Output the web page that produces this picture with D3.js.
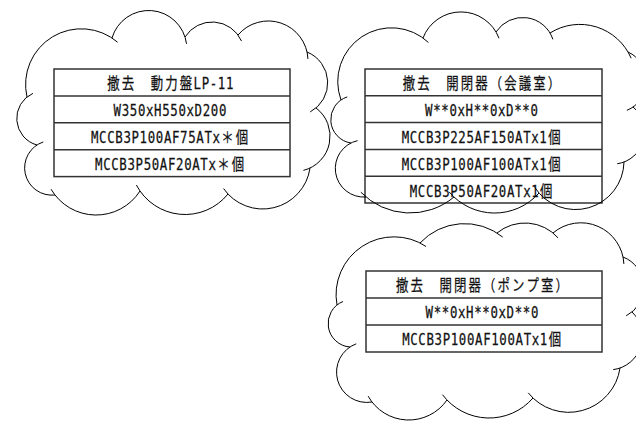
<!DOCTYPE html>
<html><head><meta charset="utf-8">
<script src="https://cdn.jsdelivr.net/npm/d3@7"></script>
<style>html,body{margin:0;padding:0;background:#fff;} svg{display:block;}</style>
</head><body><svg id="c" width="636" height="428"></svg>
<script>
// ---- data: table contents ----
const table1Rows = ["撤去　動力盤LP-11", "W350xH550xD200", "MCCB3P100AF75ATx＊個", "MCCB3P50AF20ATx＊個"];
const table2Rows = ["撤去　開閉器（会議室）", "W**0xH**0xD**0", "MCCB3P225AF150ATx1個", "MCCB3P100AF100ATx1個", "MCCB3P50AF20ATx1個"];
const table3Rows = ["撤去　開閉器（ポンプ室）", "W**0xH**0xD**0", "MCCB3P100AF100ATx1個"];

// ---- layout (positions / styles) ----
const tableLayout = [
  {rows: table1Rows, x: 54, y: 69, w: 236, rh: 26.9},
  {rows: table2Rows, x: 365, y: 69, w: 237, rh: 26.8},
  {rows: table3Rows, x: 366, y: 271, w: 236, rh: 27}
];
const clouds = [
  {pts: [[27,97],[112,38],[185,37],[238,35],[307,52],[316,108],[310,168],[228,194],[140,191],[55,195],[37,145]],
   bulge: [35,27,14,22,16,17,27,22,22,21,15]},
  {pts: [[341,100],[423,38],[496,32],[550,33],[628,52],[633,107],[624,162],[539,193],[454,197],[366,197],[351,143]],
   bulge: [38,23,15,17,16,16,31,18,16,23,15]},
  {pts: [[337,305],[420,243],[497,233],[553,233],[623,257],[632,312],[620,368],[533,398],[447,400],[372,402],[350,347]],
   bulge: [32,14,10,21,16,16,28,19,19,24,15]}
];
const FS = 15.5, SX = 0.8, HALF = 8.1, FULL = 14.5;

const svg = d3.select("#c");
svg.append("rect").attr("width",636).attr("height",428).attr("fill","#fff");

// ---- tables ----
function isFull(ch){ return ch.charCodeAt(0) > 0xff; }
tableLayout.forEach(t => {
  const n = t.rows.length;
  const y = d3.scaleLinear().domain([0, n]).range([t.y, t.y + n * t.rh]);
  const g = svg.append("g");
  g.append("rect").attr("x", t.x).attr("y", y(0)).attr("width", t.w).attr("height", y(n) - y(0))
    .attr("fill", "none").attr("stroke", "#333").attr("stroke-width", 1.5);
  g.selectAll("line").data(d3.range(1, n)).join("line")
    .attr("x1", t.x).attr("x2", t.x + t.w).attr("y1", d => y(d)).attr("y2", d => y(d))
    .attr("stroke", "#333").attr("stroke-width", 1.5);
  const cx = t.x + t.w / 2 - 2;
  g.selectAll("text").data(t.rows).join("text")
    .attr("font-family", "'DejaVu Sans Mono', 'Noto Sans CJK JP', monospace")
    .attr("font-size", FS).attr("fill", "#111")
    .attr("stroke", "#111").attr("stroke-width", 0.25)
    .attr("transform", `scale(${SX},1)`)
    .attr("y", (d, i) => (y(i) + y(i + 1)) / 2 + 7)
    .attr("x", d => {
      const chars = Array.from(d);
      const total = d3.sum(chars, c => isFull(c) ? FULL : HALF);
      let pos = cx - total / 2;
      const xs = chars.map(c => {
        const pitch = isFull(c) ? FULL : HALF;
        const adv = (isFull(c) ? FS : FS * 0.602) * SX;
        const v = (pos + (pitch - adv) / 2) / SX;
        pos += pitch;
        return v.toFixed(2);
      });
      return xs.join(" ");
    })
    .text(d => d);
});

// ---- clouds ----
function cloudPath(pts, bulge, tail) {
  const p = d3.path();
  const n = pts.length;
  for (let i = 0; i < n; i++) {
    const a = pts[i], b = pts[(i + 1) % n], s = bulge[i];
    const dx = b[0] - a[0], dy = b[1] - a[1], c = Math.hypot(dx, dy);
    const ux = dx / c, uy = dy / c, nx = uy, ny = -ux;
    const r = (c * c / 4 + s * s) / (2 * s);
    const mx = (a[0] + b[0]) / 2, my = (a[1] + b[1]) / 2;
    const ccx = mx - nx * (r - s), ccy = my - ny * (r - s);
    let a0 = Math.atan2(a[1] - ccy, a[0] - ccx), a1 = Math.atan2(b[1] - ccy, b[0] - ccx);
    while (a1 < a0) a1 += 2 * Math.PI;
    a1 += tail / r;
    p.moveTo(a[0], a[1]);
    p.arc(ccx, ccy, r, a0, a1, false);
  }
  return p.toString();
}
svg.selectAll("path.cloud").data(clouds).join("path").attr("class", "cloud")
  .attr("d", d => cloudPath(d.pts, d.bulge, 7))
  .attr("fill", "none").attr("stroke", "#000").attr("stroke-width", 1);
</script></body></html>
